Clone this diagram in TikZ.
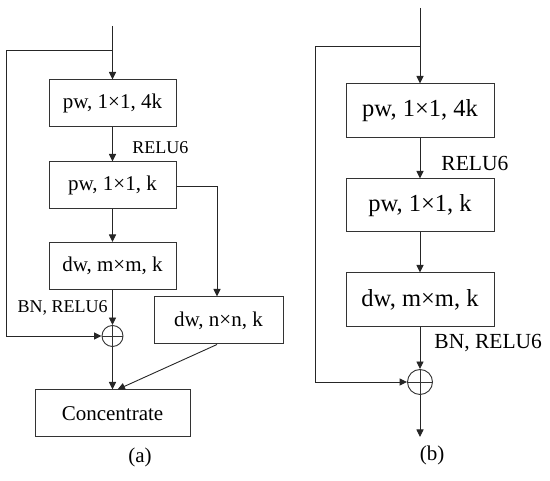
\documentclass[tikz,border=0pt]{standalone}
\usepackage{fontspec}
\setmainfont{Liberation Serif}
\usetikzlibrary{arrows.meta}
\begin{document}
\begin{tikzpicture}[x=1pt,y=-1pt,
  line width=0.9pt,
  ln/.style={draw=black!85},
  arr/.style={ln,-{Triangle[length=7.5pt,width=7pt]}},
  boxa/.style={draw=black!80,line width=1pt,minimum width=127pt,minimum height=47pt,inner sep=0pt,font=\fontsize{21}{22}\selectfont},
  boxb/.style={draw=black!80,line width=1pt,minimum width=148pt,minimum height=54pt,inner sep=0pt,font=\fontsize{24.5}{26}\selectfont},
  lbla/.style={inner sep=0pt,font=\fontsize{18}{20}\selectfont},
  lblb/.style={inner sep=0pt,font=\fontsize{21.5}{23}\selectfont},
  plusnode/.style={circle,draw=black!80,line width=0.9pt,inner sep=0pt,minimum size=#1,
    path picture={\draw[line width=0.9pt,black!80] (path picture bounding box.north) -- (path picture bounding box.south)
      (path picture bounding box.west) -- (path picture bounding box.east);}},
  capstyle/.style={inner sep=0pt,font=\fontsize{21}{22}\selectfont}]
\useasboundingbox (0,0) rectangle (550,481);
% ---------- (a) ----------
\node[boxa] (a1) at (112.5,103.5) {pw, 1×1, 4k};
\node[boxa] (a2) at (112.5,185.5) {pw, 1×1, k};
\node[boxa] (a3) at (112.5,266) {dw, m×m, k};
\node[boxa,minimum width=129pt] (a4) at (218.5,320.5) {dw, n×n, k};
\node[boxa,minimum width=155pt] (a5) at (112.5,413.5) {Concentrate};
\node[plusnode=21pt] (pa) at (112.5,336) {};
\coordinate (ain) at (112.5,26);
\coordinate (abr) at (112.5,50);
\coordinate (aleft) at (6,50);
\coordinate (aright) at (217,186);
\draw[arr] (ain) -- (a1.north);
\draw[ln] (abr) -- (aleft) -- (aleft |- pa);
\draw[arr] (aleft |- pa) -- (pa.west);
\draw[arr] (a1) -- (a2);
\draw[arr] (a2) -- (a3);
\draw[arr] (a3) -- (pa.north);
\draw[arr] (a2.east |- aright) -| (a4.north -| aright);
\draw[arr] (pa.south) -- (a5.north);
\draw[arr] (a4.south -| aright) -- ([xshift=5pt]a5.north);
\node[lbla,anchor=west] (ra) at (132,148) {RELU6};
\node[lbla,anchor=east] (bna) at (108,308) {BN, RELU6};
\node[capstyle] (capa) at (140,457) {(a)};
% ---------- (b) ----------
\node[boxb] (b1) at (420,111) {pw, 1×1, 4k};
\node[boxb,minimum height=53pt] (b2) at (420,205.5) {pw, 1×1, k};
\node[boxb] (b3) at (420,300) {dw, m×m, k};
\node[plusnode=25pt] (pb) at (420,382) {};
\coordinate (bin) at (420,8);
\coordinate (bbr) at (420,46);
\coordinate (bleft) at (315,46);
\coordinate (bout) at (420,437);
\draw[arr] (bin) -- (b1.north);
\draw[ln] (bbr) -- (bleft) -- (bleft |- pb);
\draw[arr] (bleft |- pb) -- (pb.west);
\draw[arr] (b1) -- (b2);
\draw[arr] (b2) -- (b3);
\draw[arr] (b3) -- (pb.north);
\draw[arr] (pb.south) -- (bout);
\node[lblb,anchor=west] (rb) at (441,163) {RELU6};
\node[lblb,anchor=west] (bnb) at (434,343) {BN, RELU6};
\node[capstyle] (capb) at (432,455) {(b)};
\end{tikzpicture}
\end{document}
